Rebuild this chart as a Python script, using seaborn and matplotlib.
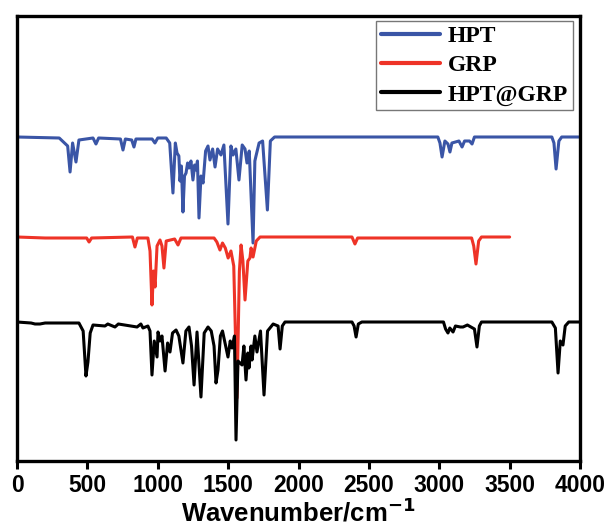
import matplotlib
matplotlib.use("Agg")
import matplotlib.pyplot as plt
import seaborn as sns
import pandas as pd
from matplotlib.lines import Line2D

# ---- data (wavenumber in cm^-1, stacked transmittance in a.u.) ----
hpt_wn = [0, 300, 360, 377, 395, 419, 440, 540, 561, 580, 735, 753, 770, 815, 831, 845,
          960, 980, 1000, 1060, 1085, 1108, 1125, 1137, 1150, 1158, 1168, 1179, 1190, 1201,
          1212, 1222, 1236, 1250, 1262, 1272, 1282, 1293, 1307, 1322, 1340, 1357, 1371, 1390,
          1407, 1425, 1449, 1470, 1499, 1520, 1535, 1555, 1577, 1600, 1620, 1634, 1650, 1677,
          1690, 1698, 1720, 1745, 1779, 1800, 1830, 2990, 3005, 3020, 3040, 3062, 3076, 3090,
          3140, 3162, 3180, 3215, 3233, 3250, 3800, 3815, 3830, 3850, 3870, 4000]
hpt_t = [324, 323, 315, 289, 318, 299, 321, 323, 317, 323, 322, 311, 322, 321, 314, 322,
         322, 318, 323, 323, 318, 268, 318, 308, 305, 280, 295, 249, 285, 288,
         298, 293, 300, 281, 296, 291, 300, 243, 285, 278, 310, 315, 301, 312,
         294, 312, 306, 316, 237, 315, 306, 312, 281, 316, 312, 298, 310, 218,
         300, 305, 318, 320, 251, 320, 324, 324, 318, 304, 320, 317, 309, 318,
         320, 314, 320, 320, 317, 324, 324, 318, 292, 320, 324, 324]

grp_wn = [0, 200, 495, 512, 530, 820, 838, 855, 930, 945, 959, 970, 981, 995, 1016, 1030,
          1044, 1060, 1120, 1144, 1165, 1400, 1420, 1442, 1460, 1480, 1500, 1520, 1540, 1563,
          1580, 1592, 1605, 1620, 1640, 1655, 1663, 1677, 1700, 1727, 2380, 2401, 2420, 3230,
          3245, 3261, 3280, 3300, 3500]
grp_t = [224, 223, 223, 219, 223, 224, 214, 223, 223, 210, 156, 190, 174, 215, 221, 215,
         193, 220, 222, 216, 223, 223, 219, 211, 218, 213, 203, 210, 195, 63,
         190, 216, 200, 161, 200, 203, 213, 204, 220, 224, 224, 217, 223, 223,
         215, 197, 220, 224, 224]

mix_wn = [0, 100, 128, 163, 200, 300, 440, 470, 490, 504, 520, 540, 625, 645, 696, 720,
          853, 880, 895, 930, 945, 959, 975, 995, 1002, 1016, 1030, 1052, 1070, 1087, 1105,
          1130, 1150, 1179, 1200, 1222, 1240, 1258, 1279, 1307, 1330, 1357, 1380, 1400, 1414,
          1428, 1445, 1460, 1499, 1515, 1528, 1545, 1556, 1570, 1599, 1612, 1627, 1640, 1648,
          1663, 1670, 1690, 1705, 1730, 1755, 1780, 1820, 1855, 1869, 1885, 1904, 2380, 2395,
          2409, 2425, 2450, 3030, 3045, 3062, 3075, 3098, 3115, 3150, 3169, 3200, 3250, 3268,
          3285, 3300, 3800, 3825, 3844, 3860, 3879, 3895, 3920, 4000]
mix_t = [139, 138, 137, 137, 138, 138, 138, 130, 85, 99, 128, 136, 135, 137, 134, 137,
         134, 137, 133, 135, 130, 86, 120, 104, 129, 120, 125, 90, 118, 109, 128,
         131, 125, 98, 130, 134, 115, 76, 129, 64, 128, 134, 130, 115, 78,
         91, 125, 130, 104, 120, 113, 125, 21, 100, 96, 115, 81, 108, 93,
         115, 101, 125, 109, 130, 66, 130, 137, 135, 112, 135, 139, 139, 135,
         124, 137, 139, 139, 132, 128, 133, 129, 135, 134, 134, 136, 132, 114,
         135, 139, 139, 133, 88, 120, 116, 135, 139, 139]

series_names = ["HPT", "GRP", "HPT@GRP"]
colors = {"HPT": "#3A55A6", "GRP": "#EE3327", "HPT@GRP": "#000000"}
x_ticks = [0, 500, 1000, 1500, 2000, 2500, 3000, 3500, 4000]

df = pd.concat([
    pd.DataFrame({"wn": hpt_wn, "T": hpt_t, "sample": "HPT"}),
    pd.DataFrame({"wn": grp_wn, "T": grp_t, "sample": "GRP"}),
    pd.DataFrame({"wn": mix_wn, "T": mix_t, "sample": "HPT@GRP"}),
], ignore_index=True)

sns.set_theme(style="white")
fig = plt.figure(figsize=(6.11, 5.31), dpi=100)
ax = fig.add_axes([17 / 611, 70 / 531, 563 / 611, 445 / 531])

sns.lineplot(data=df, x="wn", y="T", hue="sample", hue_order=series_names,
             palette=colors, estimator=None, sort=False, linewidth=2.2, ax=ax,
             legend=False)

ax.set_xlim(0, 4000)
ax.set_ylim(0, 445)
ax.set_xticks(x_ticks)
ax.set_yticks([])
ax.set_ylabel("")
for s in ax.spines.values():
    s.set_linewidth(2.4)
    s.set_color("black")
    s.set_visible(True)
ax.tick_params(axis="x", direction="out", length=5.5, width=2.2, bottom=True,
               colors="black", pad=3.5)
for lab in ax.get_xticklabels():
    lab.set_fontfamily("Liberation Sans")
    lab.set_fontweight("bold")
    lab.set_fontsize(16.5)
ax.set_xlabel("Wavenumber/cm$^{\\mathbf{-1}}$", fontfamily="Liberation Sans",
              fontweight="bold", fontsize=18.5, labelpad=1, color="black")

handles = [Line2D([], [], color=colors[n], lw=3.0) for n in series_names]
leg = ax.legend(handles, series_names, loc="upper right",
                bbox_to_anchor=(1 - 7 / 563, 1 - 5 / 445),
                prop={"family": "Liberation Serif", "weight": "bold", "size": 17},
                frameon=True, fancybox=False, edgecolor="#777777", framealpha=1,
                handlelength=2.5, handletextpad=0.35, labelspacing=0.32,
                borderpad=0.2, borderaxespad=0)
for t in leg.get_texts():
    t.set_color("black")
leg.get_frame().set_linewidth(1.0)

fig.savefig("out.png", dpi=100)
